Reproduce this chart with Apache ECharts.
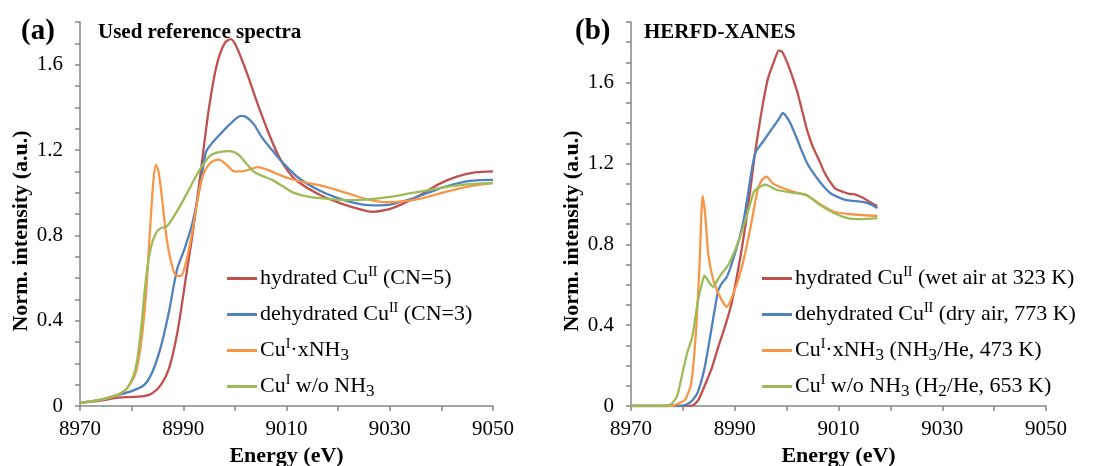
<!DOCTYPE html>
<html>
<head>
<meta charset="utf-8">
<script src="https://cdn.jsdelivr.net/npm/echarts@6/dist/echarts.min.js"></script>
<style>
  html, body { margin: 0; padding: 0; background: #fff; }
  #main { width: 1098px; height: 466px; }
</style>
</head>
<body>
<div id="main"></div>
<script>
// (a) reference spectra
const refHydE = [8970, 8974, 8977, 8979.5, 8982, 8984, 8985.7, 8987.3, 8988.9, 8990.5, 8992, 8993.5, 8995, 8996.5, 8998, 8999.2, 9000.2, 9002.2, 9004.2, 9006.2, 9008.3, 9010.3, 9012.3, 9016.4, 9020.5, 9024.5, 9026.6, 9029.5, 9032.3, 9036, 9039.5, 9043, 9046.5, 9050];
const refHydI = [0.015, 0.025, 0.038, 0.042, 0.045, 0.06, 0.10, 0.18, 0.35, 0.60, 0.84, 1.12, 1.40, 1.60, 1.70, 1.72, 1.69, 1.57, 1.43, 1.30, 1.18, 1.10, 1.05, 0.99, 0.95, 0.92, 0.91, 0.92, 0.945, 0.99, 1.04, 1.075, 1.095, 1.10];
const refDehE = [8970, 8974, 8977, 8980, 8982.5, 8984.2, 8985.8, 8987.3, 8988.8, 8990.3, 8991.8, 8993.4, 8994.4, 8995.5, 8997, 8999, 9001.2, 9002.2, 9003.7, 9005.2, 9007.2, 9009.3, 9012.3, 9016.4, 9020.5, 9024.5, 9027.5, 9030.3, 9034, 9037.5, 9041, 9045.5, 9050];
const refDehI = [0.015, 0.03, 0.05, 0.07, 0.10, 0.17, 0.29, 0.45, 0.64, 0.74, 0.86, 1.05, 1.19, 1.23, 1.27, 1.32, 1.36, 1.355, 1.32, 1.26, 1.20, 1.14, 1.07, 1.01, 0.97, 0.945, 0.94, 0.945, 0.97, 1.00, 1.03, 1.055, 1.06];
const refNh3E = [8970, 8974, 8977, 8979, 8980.7, 8981.7, 8982.7, 8983.5, 8984.2, 8984.7, 8985.2, 8985.9, 8986.7, 8987.7, 8988.7, 8989.5, 8990.5, 8991.8, 8992.8, 8993.8, 8995.3, 8996.9, 8998.4, 8999.9, 9001.4, 9003, 9004.5, 9006, 9008, 9010.1, 9013.2, 9017.3, 9021.4, 9025.5, 9029.6, 9033, 9036.5, 9041, 9045.5, 9050];
const refNh3I = [0.015, 0.03, 0.05, 0.08, 0.15, 0.27, 0.50, 0.80, 1.05, 1.13, 1.10, 0.97, 0.80, 0.67, 0.61, 0.61, 0.67, 0.82, 0.97, 1.08, 1.14, 1.155, 1.13, 1.10, 1.10, 1.11, 1.12, 1.11, 1.09, 1.07, 1.05, 1.03, 1.00, 0.97, 0.955, 0.96, 0.975, 1.005, 1.03, 1.045];
const refRedE = [8970, 8974, 8977, 8979, 8980.7, 8981.7, 8982.7, 8983.7, 8984.7, 8985.7, 8986.7, 8987.7, 8989.2, 8990.8, 8992.3, 8993.8, 8995.3, 8996.9, 8999, 9000.6, 9002.1, 9003.6, 9005.2, 9007.2, 9009.3, 9011.3, 9014.4, 9018.5, 9022.6, 9026.5, 9030, 9033.5, 9037, 9040.5, 9045.5, 9050];
const refRedI = [0.015, 0.03, 0.05, 0.08, 0.17, 0.33, 0.58, 0.74, 0.81, 0.835, 0.84, 0.87, 0.93, 1.00, 1.07, 1.13, 1.175, 1.19, 1.195, 1.18, 1.14, 1.10, 1.08, 1.06, 1.03, 1.00, 0.98, 0.97, 0.965, 0.97, 0.98, 0.995, 1.01, 1.025, 1.04, 1.045];

// (b) HERFD-XANES
const hHydE = [8970, 8980.4, 8982, 8983, 8984.2, 8985.6, 8986.8, 8988.2, 8989.5, 8991.1, 8992.1, 8993.1, 8993.9, 8994.8, 8995.6, 8996.4, 8997.5, 8998.5, 8999.2, 9000.1, 9001.1, 9002.1, 9003.1, 9004, 9005.1, 9006.2, 9007.2, 9008.1, 9009.4, 9010.8, 9012.1, 9013.4, 9014.7, 9016, 9017, 9017.5];
const hHydI = [0, 0, 0.005, 0.03, 0.10, 0.19, 0.29, 0.40, 0.52, 0.74, 0.90, 1.09, 1.25, 1.40, 1.52, 1.62, 1.70, 1.76, 1.75, 1.70, 1.63, 1.55, 1.45, 1.36, 1.28, 1.22, 1.16, 1.12, 1.075, 1.06, 1.05, 1.045, 1.03, 1.01, 0.995, 0.99];
const hDehE = [8970, 8979.4, 8980.9, 8981.9, 8982.9, 8984.2, 8985.5, 8986.8, 8987.6, 8988.5, 8989.5, 8991.1, 8992, 8992.8, 8993.5, 8994.1, 8995.5, 8997.4, 8998.5, 8999.3, 9000, 9000.7, 9001.7, 9002.8, 9003.8, 9004.7, 9006.7, 9008.6, 9011.3, 9014.6, 9016, 9017.5];
const hDehI = [0, 0, 0.01, 0.03, 0.07, 0.19, 0.38, 0.57, 0.61, 0.64, 0.71, 0.85, 0.96, 1.09, 1.20, 1.26, 1.31, 1.38, 1.42, 1.45, 1.43, 1.40, 1.34, 1.27, 1.21, 1.17, 1.10, 1.05, 1.02, 1.01, 1.00, 0.98];
const hNh3E = [8970, 8977.9, 8978.9, 8980.4, 8981.6, 8982.5, 8983.2, 8983.8, 8984.3, 8984.9, 8985.8, 8986.8, 8987.8, 8988.4, 8989.8, 8991.4, 8993.1, 8994.4, 8995.3, 8996.1, 8997.4, 8999.1, 9001.4, 9004, 9006.7, 9009.3, 9012, 9014.3, 9017.5];
const hNh3I = [0, 0, 0.01, 0.03, 0.11, 0.36, 0.69, 1.04, 0.95, 0.75, 0.63, 0.56, 0.51, 0.49, 0.56, 0.69, 0.89, 1.07, 1.12, 1.135, 1.10, 1.08, 1.06, 1.04, 0.995, 0.96, 0.95, 0.945, 0.94];
const hRedE = [8970, 8976.3, 8977.8, 8978.9, 8979.9, 8980.8, 8981.8, 8982.9, 8983.8, 8984.2, 8985.1, 8985.9, 8986.6, 8987.2, 8988.8, 8990.8, 8992.4, 8993.7, 8994.6, 8995.9, 8998, 9001.2, 9003.8, 9006.4, 9009.1, 9011.7, 9014.1, 9017.5];
const hRedI = [0, 0, 0.01, 0.05, 0.16, 0.26, 0.34, 0.52, 0.62, 0.645, 0.61, 0.59, 0.62, 0.645, 0.70, 0.82, 0.95, 1.06, 1.08, 1.095, 1.07, 1.055, 1.045, 0.995, 0.955, 0.93, 0.925, 0.93];

const xTicks = [8970, 8990, 9010, 9030, 9050];
const yTicks = [0, 0.4, 0.8, 1.2, 1.6];

const colors = ['#C0504D', '#4F81BD', '#F79646', '#9BBB59'];
const serif = "'Liberation Serif', 'Times New Roman', serif";

const legendText = {
  'hydrated CuII (CN=5)': 'hydrated Cu{sup|II} (CN=5)',
  'dehydrated CuII (CN=3)': 'dehydrated Cu{sup|II} (CN=3)',
  'CuI·xNH3': 'Cu{sup|I}·xNH{sub|3}',
  'CuI w/o NH3': 'Cu{sup|I} w/o NH{sub|3}',
  'hydrated CuII (wet air at 323 K)': 'hydrated Cu{sup|II} (wet air at 323 K)',
  'dehydrated CuII (dry air, 773 K)': 'dehydrated Cu{sup|II} (dry air, 773 K)',
  'CuI·xNH3 (NH3/He, 473 K)': 'Cu{sup|I}·xNH{sub|3} (NH{sub|3}/He, 473 K)',
  'CuI w/o NH3 (H2/He, 653 K)': 'Cu{sup|I} w/o NH{sub|3} (H{sub|2}/He, 653 K)'
};
const namesA = ['hydrated CuII (CN=5)', 'dehydrated CuII (CN=3)', 'CuI·xNH3', 'CuI w/o NH3'];
const namesB = ['hydrated CuII (wet air at 323 K)', 'dehydrated CuII (dry air, 773 K)', 'CuI·xNH3 (NH3/He, 473 K)', 'CuI w/o NH3 (H2/He, 653 K)'];

const pairs = (e, v) => e.map((x, i) => [x, v[i]]);

const axisGray = '#868686';
function xAx(gi) {
  return {
    gridIndex: gi, type: 'value', min: 8970, max: 9050, interval: 10,
    name: 'Energy (eV)', nameLocation: 'middle', nameGap: 37,
    nameTextStyle: { fontFamily: serif, fontWeight: 'bold', fontSize: 22, color: '#000' },
    axisLine: { lineStyle: { color: axisGray, width: 1.5 } },
    axisTick: { inside: false, length: 5, lineStyle: { color: axisGray, width: 1.5 } },
    splitLine: { show: false },
    axisLabel: {
      margin: 13, fontFamily: serif, fontSize: 21, color: '#000',
      formatter: v => xTicks.includes(v) ? String(v) : ''
    }
  };
}
function yAx(gi, max) {
  return {
    gridIndex: gi, type: 'value', min: 0, max: max, interval: 0.1,
    name: 'Norm. intensity (a.u.)', nameLocation: 'middle', nameGap: 48,
    nameTextStyle: { fontFamily: serif, fontWeight: 'bold', fontSize: 22, color: '#000', padding: [0, 34, 0, 0] },
    axisLine: { show: true, lineStyle: { color: axisGray, width: 1.5 } },
    axisTick: { show: true, inside: false, length: 5, lineStyle: { color: axisGray, width: 1.5 } },
    splitLine: { show: false },
    axisLabel: {
      margin: 17, fontFamily: serif, fontSize: 21, color: '#000',
      formatter: v => {
        const r = Math.round(v * 10) / 10;
        return yTicks.some(t => Math.abs(t - r) < 1e-6) ? String(r) : '';
      }
    }
  };
}
function legend(left, names) {
  return {
    orient: 'vertical', left: left, top: 265, padding: 0,
    itemWidth: 30, itemHeight: 3, itemGap: 9, icon: 'rect',
    data: names,
    formatter: n => legendText[n],
    textStyle: {
      fontFamily: serif, fontSize: 22, color: '#000', lineHeight: 27, padding: [0, 0, 0, -2],
      rich: {
        sup: { fontFamily: serif, fontSize: 14, verticalAlign: 'top', lineHeight: 27, padding: [0, 0, 7, 0] },
        sub: { fontFamily: serif, fontSize: 17, verticalAlign: 'bottom', lineHeight: 27, padding: [2, 0, 0, 0] }
      }
    }
  };
}
function line(name, gi, data, color, smooth) {
  return {
    name: name, type: 'line', xAxisIndex: gi, yAxisIndex: gi,
    data: data, showSymbol: false, smooth: smooth, animation: false,
    lineStyle: { color: color, width: 2.3 }, itemStyle: { color: color }
  };
}

const chart = echarts.init(document.getElementById('main'));
chart.setOption({
  animation: false,
  grid: [
    { left: 80, top: 22, width: 413, height: 384, outerBoundsMode: 'none', containLabel: false },
    { left: 631, top: 22, width: 415, height: 384, outerBoundsMode: 'none', containLabel: false }
  ],
  title: [
    { text: '(a)', left: 16, top: 12, textStyle: { fontFamily: serif, fontWeight: 'bold', fontSize: 29, color: '#000' } },
    { text: 'Used reference spectra', left: 93, top: 17, textStyle: { fontFamily: serif, fontWeight: 'bold', fontSize: 21, color: '#000' } },
    { text: '(b)', left: 570, top: 12, textStyle: { fontFamily: serif, fontWeight: 'bold', fontSize: 29, color: '#000' } },
    { text: 'HERFD-XANES', left: 639, top: 17, textStyle: { fontFamily: serif, fontWeight: 'bold', fontSize: 21, color: '#000' } }
  ],
  legend: [legend(227, namesA), legend(762, namesB)],
  xAxis: [xAx(0), xAx(1)],
  yAxis: [yAx(0, 1.8), yAx(1, 1.9)],
  series: [
    line(namesA[0], 0, pairs(refHydE, refHydI), colors[0], 0.3),
    line(namesA[1], 0, pairs(refDehE, refDehI), colors[1], 0.3),
    line(namesA[2], 0, pairs(refNh3E, refNh3I), colors[2], 0.3),
    line(namesA[3], 0, pairs(refRedE, refRedI), colors[3], 0.3),
    line(namesB[0], 1, pairs(hHydE, hHydI), colors[0], 0.2),
    line(namesB[1], 1, pairs(hDehE, hDehI), colors[1], 0.2),
    line(namesB[2], 1, pairs(hNh3E, hNh3I), colors[2], 0.2),
    line(namesB[3], 1, pairs(hRedE, hRedI), colors[3], 0.2)
  ]
});
</script>
</body>
</html>
